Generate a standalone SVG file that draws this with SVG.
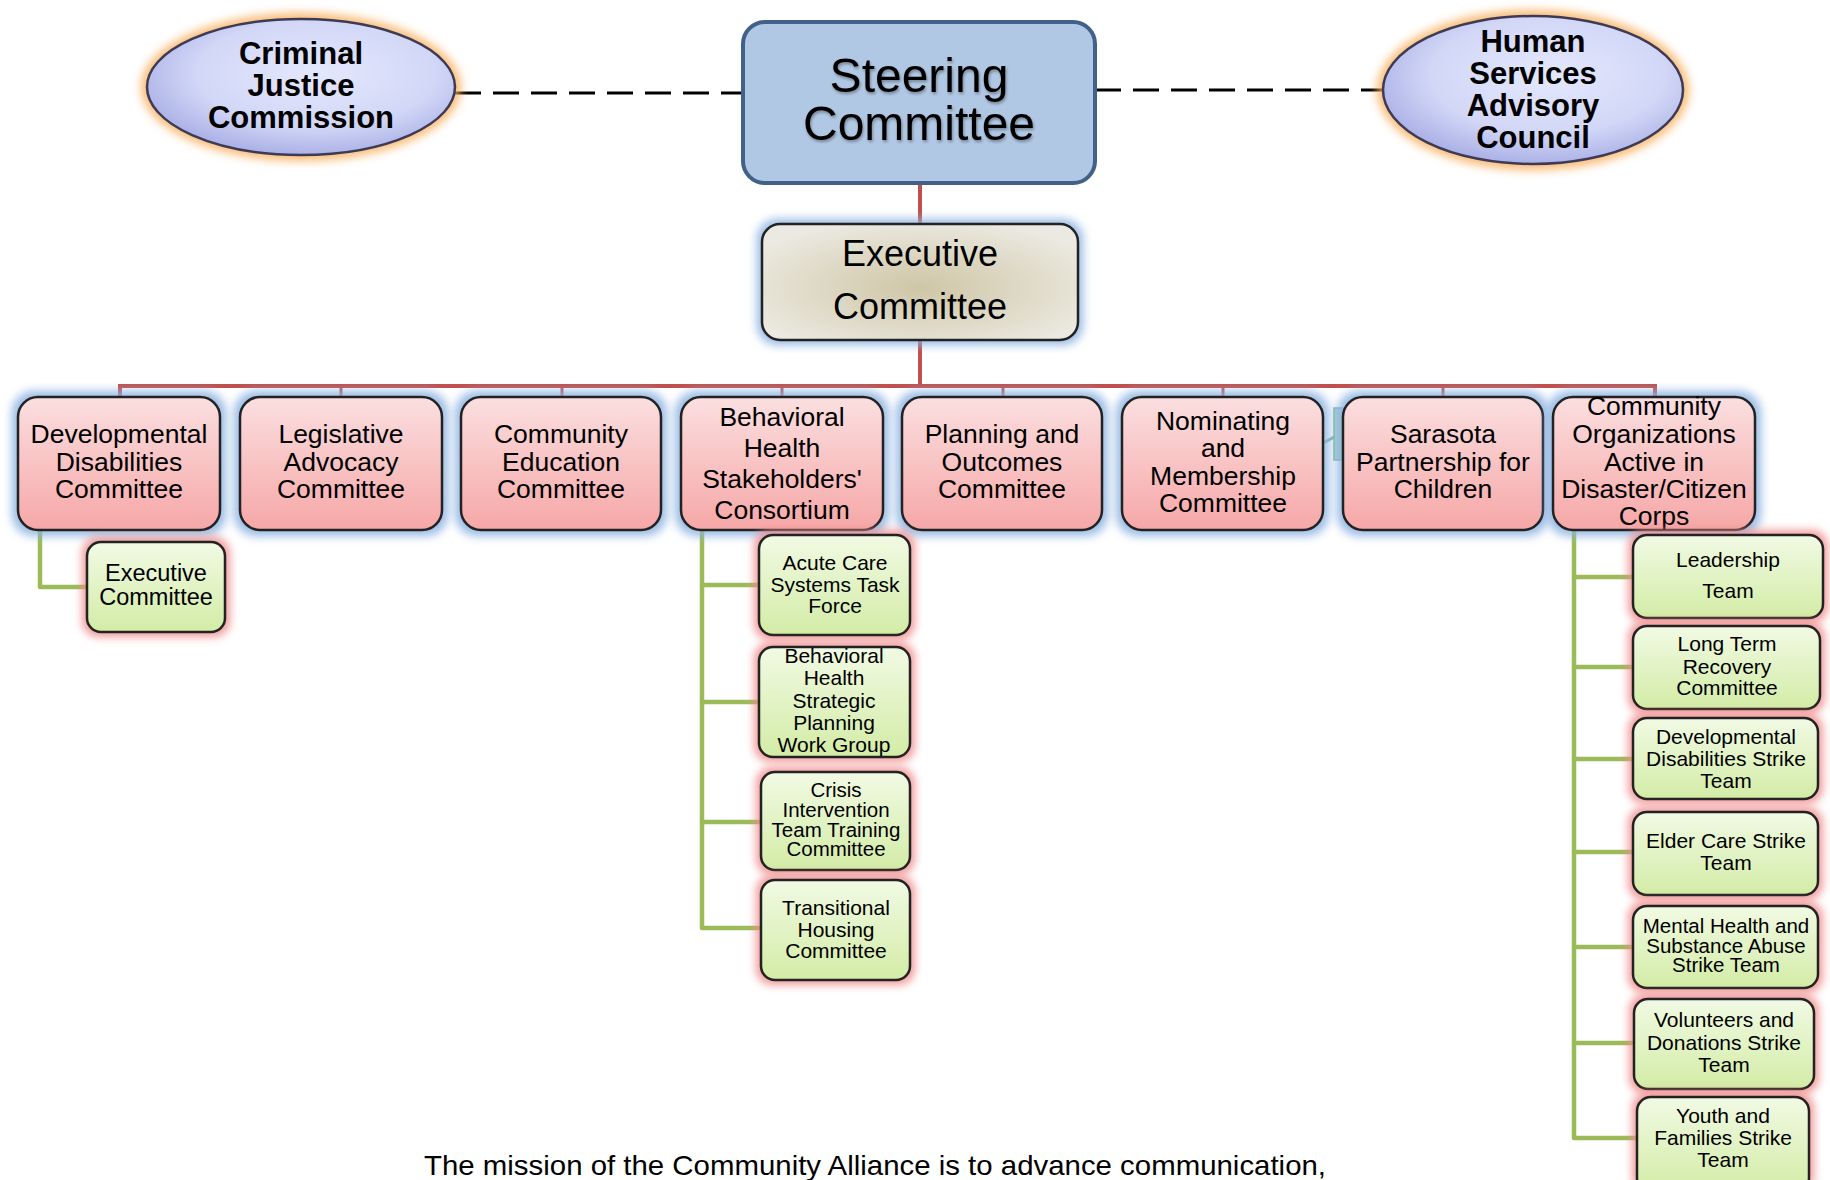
<svg xmlns="http://www.w3.org/2000/svg" width="1830" height="1180" viewBox="0 0 1830 1180">
<defs>
  <radialGradient id="ellG" cx="0.55" cy="0.4" r="0.65">
    <stop offset="0" stop-color="#e4e8fd"/>
    <stop offset="0.6" stop-color="#d2d7f7"/>
    <stop offset="1" stop-color="#a3a9e2"/>
  </radialGradient>
  <radialGradient id="execG" cx="0.5" cy="0.55" r="0.6">
    <stop offset="0" stop-color="#cfc6a6"/>
    <stop offset="1" stop-color="#ebe9e1"/>
  </radialGradient>
  <linearGradient id="pinkG" x1="0" y1="0" x2="0" y2="1">
    <stop offset="0" stop-color="#fbdfe0"/>
    <stop offset="1" stop-color="#f6a7a7"/>
  </linearGradient>
  <linearGradient id="greenG" x1="0" y1="0" x2="0" y2="1">
    <stop offset="0" stop-color="#f1fae4"/>
    <stop offset="1" stop-color="#d3eca6"/>
  </linearGradient>
  <filter id="blur" x="-20%" y="-30%" width="140%" height="160%">
    <feGaussianBlur stdDeviation="5"/>
  </filter>
  <filter id="blurS" x="-20%" y="-30%" width="140%" height="160%">
    <feGaussianBlur stdDeviation="4"/>
  </filter>
  <filter id="tshadow" x="-10%" y="-10%" width="120%" height="130%">
    <feGaussianBlur in="SourceAlpha" stdDeviation="1.5"/>
    <feOffset dx="1" dy="2" result="o"/>
    <feComponentTransfer><feFuncA type="linear" slope="0.35"/></feComponentTransfer>
    <feMerge><feMergeNode/><feMergeNode in="SourceGraphic"/></feMerge>
  </filter>
</defs>
<style>
  text { font-family: "Liberation Sans", Arial, sans-serif; fill: #000; text-anchor: middle; }
  .bold { font-weight: bold; font-size: 31px; }
  .big { font-size: 48px; }
  .mid { font-size: 36px; }
  .t26 { font-size: 26.5px; }
  .t23 { font-size: 23.5px; }
  .t21 { font-size: 21px; }
  .t20 { font-size: 20.5px; }
  .dash { stroke: #000; stroke-width: 3; stroke-dasharray: 26 12; fill: none; }
  .red { stroke: #c0504d; stroke-width: 4; fill: none; }
  .drop { stroke: #c0504d; stroke-width: 3; fill: none; }
  .grn { stroke: #9bbb59; stroke-width: 4.5; fill: none; stroke-linejoin: round; stroke-linecap: round; }
  .pink { fill: url(#pinkG); stroke: #222; stroke-width: 2.5; }
  .green { fill: url(#greenG); stroke: #222; stroke-width: 2.5; }
  .glowB { fill: #8db3e2; opacity: 0.9; filter: url(#blur); }
  .glowR { fill: #ef8a8a; opacity: 0.85; filter: url(#blurS); }
  .glowO { fill: #f8ae5c; opacity: 0.85; filter: url(#blur); }
</style>
<rect width="1830" height="1180" fill="#fff"/>

<g id="connectors">
  <line class="dash" x1="455" y1="93" x2="743" y2="93"/>
  <line class="dash" x1="1095" y1="90" x2="1383" y2="90"/>
  <line class="red" x1="920" y1="183" x2="920" y2="224"/>
  <line class="red" x1="920" y1="340" x2="920" y2="386"/>
  <polyline class="red" points="120,397 120,386 1655,386 1655,397"/>
  <line class="drop" x1="341" y1="386" x2="341" y2="397"/>
  <line class="drop" x1="562" y1="386" x2="562" y2="397"/>
  <line class="drop" x1="782" y1="386" x2="782" y2="397"/>
  <line class="drop" x1="1003" y1="386" x2="1003" y2="397"/>
  <line class="drop" x1="1223" y1="386" x2="1223" y2="397"/>
  <line class="drop" x1="1443" y1="386" x2="1443" y2="397"/>
  <polyline class="grn" points="40,530 40,587 87,587"/>
  <polyline class="grn" points="702,530 702,928 759,928"/>
  <line class="grn" x1="702" y1="585" x2="759" y2="585"/>
  <line class="grn" x1="702" y1="702" x2="759" y2="702"/>
  <line class="grn" x1="702" y1="822" x2="759" y2="822"/>
  <polyline class="grn" points="1574,530 1574,1138 1637,1138"/>
  <line class="grn" x1="1574" y1="577" x2="1633" y2="577"/>
  <line class="grn" x1="1574" y1="667" x2="1633" y2="667"/>
  <line class="grn" x1="1574" y1="759" x2="1633" y2="759"/>
  <line class="grn" x1="1574" y1="852" x2="1633" y2="852"/>
  <line class="grn" x1="1574" y1="947" x2="1633" y2="947"/>
  <line class="grn" x1="1574" y1="1043" x2="1634" y2="1043"/>
  <line x1="1323" y1="443" x2="1336" y2="436" stroke="#7fb8a8" stroke-width="3"/>
</g>

<g id="criminal-justice">
  <ellipse class="glowO" cx="301" cy="87" rx="160" ry="74"/>
  <ellipse cx="301" cy="87" rx="154" ry="68" fill="url(#ellG)" stroke="#3d3a55" stroke-width="2.5"/>
  <text class="bold" x="301" y="64">Criminal</text>
  <text class="bold" x="301" y="96">Justice</text>
  <text class="bold" x="301" y="128">Commission</text>
</g>

<g id="human-services">
  <ellipse class="glowO" cx="1533" cy="90" rx="156" ry="80"/>
  <ellipse cx="1533" cy="90" rx="150" ry="74" fill="url(#ellG)" stroke="#3d3a55" stroke-width="2.5"/>
  <text class="bold" x="1533" y="52">Human</text>
  <text class="bold" x="1533" y="84">Services</text>
  <text class="bold" x="1533" y="116">Advisory</text>
  <text class="bold" x="1533" y="148">Council</text>
</g>

<g id="steering">
  <rect x="743" y="22" width="352" height="161" rx="22" fill="#b1c8e4" stroke="#41608a" stroke-width="4"/>
  <text class="big" x="919" y="92" filter="url(#tshadow)">Steering</text>
  <text class="big" x="919" y="140" filter="url(#tshadow)">Committee</text>
</g>

<g id="executive-main">
  <rect class="glowB" x="757" y="219" width="326" height="126" rx="20"/>
  <rect x="762" y="224" width="316" height="116" rx="18" fill="url(#execG)" stroke="#222" stroke-width="2.5"/>
  <text class="mid" x="920" y="266">Executive</text>
  <text class="mid" x="920" y="319">Committee</text>
</g>

<g id="developmental">
  <rect class="glowB" x="12" y="391" width="214" height="145" rx="22"/>
  <rect class="pink" x="18" y="397" width="202" height="133" rx="20"/>
  <text class="t26" x="119" y="443">Developmental</text>
  <text class="t26" x="119" y="471">Disabilities</text>
  <text class="t26" x="119" y="498">Committee</text>
</g>

<g id="legislative">
  <rect class="glowB" x="234" y="391" width="214" height="145" rx="22"/>
  <rect class="pink" x="240" y="397" width="202" height="133" rx="20"/>
  <text class="t26" x="341" y="443">Legislative</text>
  <text class="t26" x="341" y="471">Advocacy</text>
  <text class="t26" x="341" y="498">Committee</text>
</g>

<g id="community-education">
  <rect class="glowB" x="455" y="391" width="212" height="145" rx="22"/>
  <rect class="pink" x="461" y="397" width="200" height="133" rx="20"/>
  <text class="t26" x="561" y="443">Community</text>
  <text class="t26" x="561" y="471">Education</text>
  <text class="t26" x="561" y="498">Committee</text>
</g>

<g id="behavioral-health">
  <rect class="glowB" x="675" y="391" width="214" height="145" rx="22"/>
  <rect class="pink" x="681" y="397" width="202" height="133" rx="20"/>
  <text class="t26" x="782" y="426">Behavioral</text>
  <text class="t26" x="782" y="457">Health</text>
  <text class="t26" x="782" y="488">Stakeholders'</text>
  <text class="t26" x="782" y="519">Consortium</text>
</g>

<g id="planning">
  <rect class="glowB" x="896" y="391" width="212" height="145" rx="22"/>
  <rect class="pink" x="902" y="397" width="200" height="133" rx="20"/>
  <text class="t26" x="1002" y="443">Planning and</text>
  <text class="t26" x="1002" y="471">Outcomes</text>
  <text class="t26" x="1002" y="498">Committee</text>
</g>

<g id="nominating">
  <rect class="glowB" x="1116" y="391" width="213" height="145" rx="22"/>
  <rect class="pink" x="1122" y="397" width="201" height="133" rx="20"/>
  <text class="t26" x="1223" y="430">Nominating</text>
  <text class="t26" x="1223" y="457">and</text>
  <text class="t26" x="1223" y="485">Membership</text>
  <text class="t26" x="1223" y="512">Committee</text>
</g>

<g id="partial-box">
  <rect x="1334" y="408" width="20" height="52" fill="#a7d0cb" stroke="#86b5ae" stroke-width="1.5"/>
</g>

<g id="sarasota">
  <rect class="glowB" x="1337" y="391" width="212" height="145" rx="22"/>
  <rect class="pink" x="1343" y="397" width="200" height="133" rx="20"/>
  <text class="t26" x="1443" y="443">Sarasota</text>
  <text class="t26" x="1443" y="471">Partnership for</text>
  <text class="t26" x="1443" y="498">Children</text>
</g>

<g id="coad">
  <rect class="glowB" x="1547" y="391" width="214" height="145" rx="22"/>
  <rect class="pink" x="1553" y="397" width="202" height="133" rx="20"/>
  <text class="t26" x="1654" y="415">Community</text>
  <text class="t26" x="1654" y="443">Organizations</text>
  <text class="t26" x="1654" y="471">Active in</text>
  <text class="t26" x="1654" y="498">Disaster/Citizen</text>
  <text class="t26" x="1654" y="525">Corps</text>
</g>

<g id="dd-executive">
  <rect class="glowR" x="82" y="537" width="148" height="100" rx="16"/>
  <rect class="green" x="87" y="542" width="138" height="90" rx="14"/>
  <text class="t23" x="156" y="581">Executive</text>
  <text class="t23" x="156" y="605">Committee</text>
</g>

<g id="acute-care">
  <rect class="glowR" x="754" y="530" width="161" height="110" rx="16"/>
  <rect class="green" x="759" y="535" width="151" height="100" rx="14"/>
  <text class="t21" x="835" y="570">Acute Care</text>
  <text class="t21" x="835" y="592">Systems Task</text>
  <text class="t21" x="835" y="613">Force</text>
</g>

<g id="bh-strategic">
  <rect class="glowR" x="754" y="642" width="161" height="120" rx="16"/>
  <rect class="green" x="759" y="647" width="151" height="110" rx="14"/>
  <text class="t21" x="834" y="663">Behavioral</text>
  <text class="t21" x="834" y="685">Health</text>
  <text class="t21" x="834" y="708">Strategic</text>
  <text class="t21" x="834" y="730">Planning</text>
  <text class="t21" x="834" y="752">Work Group</text>
</g>

<g id="crisis">
  <rect class="glowR" x="756" y="767" width="159" height="108" rx="16"/>
  <rect class="green" x="761" y="772" width="149" height="98" rx="14"/>
  <text class="t20" x="836" y="797">Crisis</text>
  <text class="t20" x="836" y="817">Intervention</text>
  <text class="t20" x="836" y="837">Team Training</text>
  <text class="t20" x="836" y="856">Committee</text>
</g>

<g id="transitional">
  <rect class="glowR" x="756" y="875" width="159" height="110" rx="16"/>
  <rect class="green" x="761" y="880" width="149" height="100" rx="14"/>
  <text class="t21" x="836" y="915">Transitional</text>
  <text class="t21" x="836" y="937">Housing</text>
  <text class="t21" x="836" y="958">Committee</text>
</g>

<g id="leadership">
  <rect class="glowR" x="1628" y="530" width="200" height="93" rx="16"/>
  <rect class="green" x="1633" y="535" width="190" height="83" rx="14"/>
  <text class="t21" x="1728" y="567">Leadership</text>
  <text class="t21" x="1728" y="598">Team</text>
</g>

<g id="long-term">
  <rect class="glowR" x="1628" y="621" width="197" height="93" rx="16"/>
  <rect class="green" x="1633" y="626" width="187" height="83" rx="14"/>
  <text class="t21" x="1727" y="651">Long Term</text>
  <text class="t21" x="1727" y="674">Recovery</text>
  <text class="t21" x="1727" y="695">Committee</text>
</g>

<g id="dd-strike">
  <rect class="glowR" x="1628" y="713" width="195" height="91" rx="16"/>
  <rect class="green" x="1633" y="718" width="185" height="81" rx="14"/>
  <text class="t21" x="1726" y="744">Developmental</text>
  <text class="t21" x="1726" y="766">Disabilities Strike</text>
  <text class="t21" x="1726" y="788">Team</text>
</g>

<g id="elder-care">
  <rect class="glowR" x="1628" y="807" width="195" height="93" rx="16"/>
  <rect class="green" x="1633" y="812" width="185" height="83" rx="14"/>
  <text class="t21" x="1726" y="848">Elder Care Strike</text>
  <text class="t21" x="1726" y="870">Team</text>
</g>

<g id="mental-health">
  <rect class="glowR" x="1628" y="901" width="195" height="92" rx="16"/>
  <rect class="green" x="1633" y="906" width="185" height="82" rx="14"/>
  <text class="t20" x="1726" y="933">Mental Health and</text>
  <text class="t20" x="1726" y="953">Substance Abuse</text>
  <text class="t20" x="1726" y="972">Strike Team</text>
</g>

<g id="volunteers">
  <rect class="glowR" x="1629" y="994" width="190" height="100" rx="16"/>
  <rect class="green" x="1634" y="999" width="180" height="90" rx="14"/>
  <text class="t21" x="1724" y="1027">Volunteers and</text>
  <text class="t21" x="1724" y="1050">Donations Strike</text>
  <text class="t21" x="1724" y="1072">Team</text>
</g>

<g id="youth">
  <rect class="glowR" x="1632" y="1092" width="182" height="100" rx="16"/>
  <rect class="green" x="1637" y="1097" width="172" height="95" rx="14"/>
  <text class="t21" x="1723" y="1123">Youth and</text>
  <text class="t21" x="1723" y="1145">Families Strike</text>
  <text class="t21" x="1723" y="1167">Team</text>
</g>

<text x="424" y="1175" textLength="902" lengthAdjust="spacingAndGlyphs" style="font-size:28px; text-anchor:start;">The mission of the Community Alliance is to advance communication,</text>
</svg>
